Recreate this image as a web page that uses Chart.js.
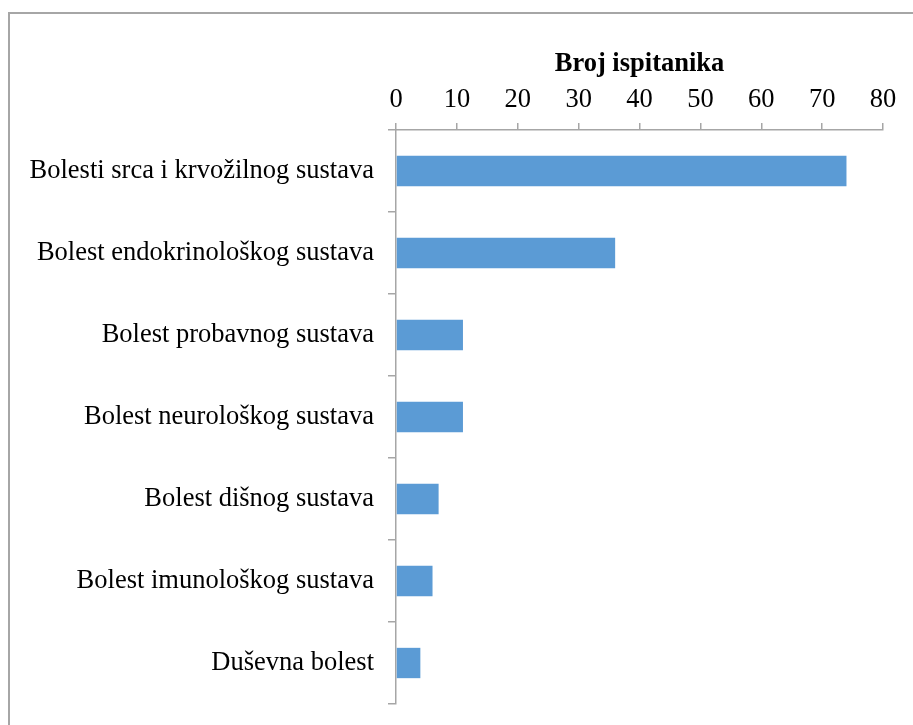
<!DOCTYPE html>
<html>
<head>
<meta charset="utf-8">
<script src="https://cdn.jsdelivr.net/npm/chart.js@4"></script>
<style>
    html, body { margin: 0; padding: 0; background: #fff; }
    #wrap { position: relative; width: 913px; height: 725px; overflow: hidden; }
    #frame {
        position: absolute; left: 8px; top: 12px; width: 1000px; height: 800px;
        border: 2px solid #a6a6a6; box-sizing: border-box;
    }
    canvas { position: absolute; left: 0; top: 0; }
</style>
</head>
<body>
<div id="wrap">
    <div id="frame"></div>
    <canvas id="chart" width="913" height="725"></canvas>
</div>
<script>
// Data
const categories = [
    'Bolesti srca i krvožilnog sustava',
    'Bolest endokrinološkog sustava',
    'Bolest probavnog sustava',
    'Bolest neurološkog sustava',
    'Bolest dišnog sustava',
    'Bolest imunološkog sustava',
    'Duševna bolest'
];
const counts = [74, 36, 11, 11, 7, 6, 4];
const axisTitle = 'Broj ispitanika';
const xMin = 0, xMax = 80, xStep = 10;

const axisGray = '#a6a6a6';
const font = { family: '"Liberation Serif", "Times New Roman", serif', size: 26.5 };

const ctx = document.getElementById('chart').getContext('2d');
const chart = new Chart(ctx, {
    type: 'bar',
    data: {
        labels: categories,
        datasets: [{
            data: counts,
            backgroundColor: '#5b9bd5',
            borderWidth: 0,
            categoryPercentage: 1,
            barPercentage: 0.37
        }]
    },
    options: {
        indexAxis: 'y',
        responsive: false,
        animation: false,
        layout: { padding: { left: 0, right: 30, top: 0, bottom: 21 } },
        plugins: { legend: { display: false }, tooltip: { enabled: false } },
        scales: {
            x: {
                position: 'top',
                min: xMin,
                max: xMax,
                ticks: { stepSize: xStep, color: '#000', font: font, padding: 7, maxRotation: 0 },
                grid: { drawOnChartArea: false, drawTicks: true, tickLength: 7, tickColor: axisGray, lineWidth: 1.5 },
                border: { display: true, color: axisGray, width: 1.5 },
                title: {
                    display: true, text: axisTitle, color: '#000',
                    font: { family: font.family, size: 26.5, weight: 'bold' },
                    padding: { top: 48, bottom: 0 }
                },
                afterFit: s => { s.height = 130; }
            },
            y: {
                ticks: { color: '#000', font: font, padding: 14 },
                grid: { offset: true, drawOnChartArea: false, drawTicks: true, tickLength: 8, tickColor: axisGray, lineWidth: 1.5 },
                border: { display: true, color: axisGray, width: 1.5 },
                afterFit: s => { s.width = 396; s.paddingTop = 0; s.paddingBottom = 0; }
            }
        }
    }
});
</script>
</body>
</html>
